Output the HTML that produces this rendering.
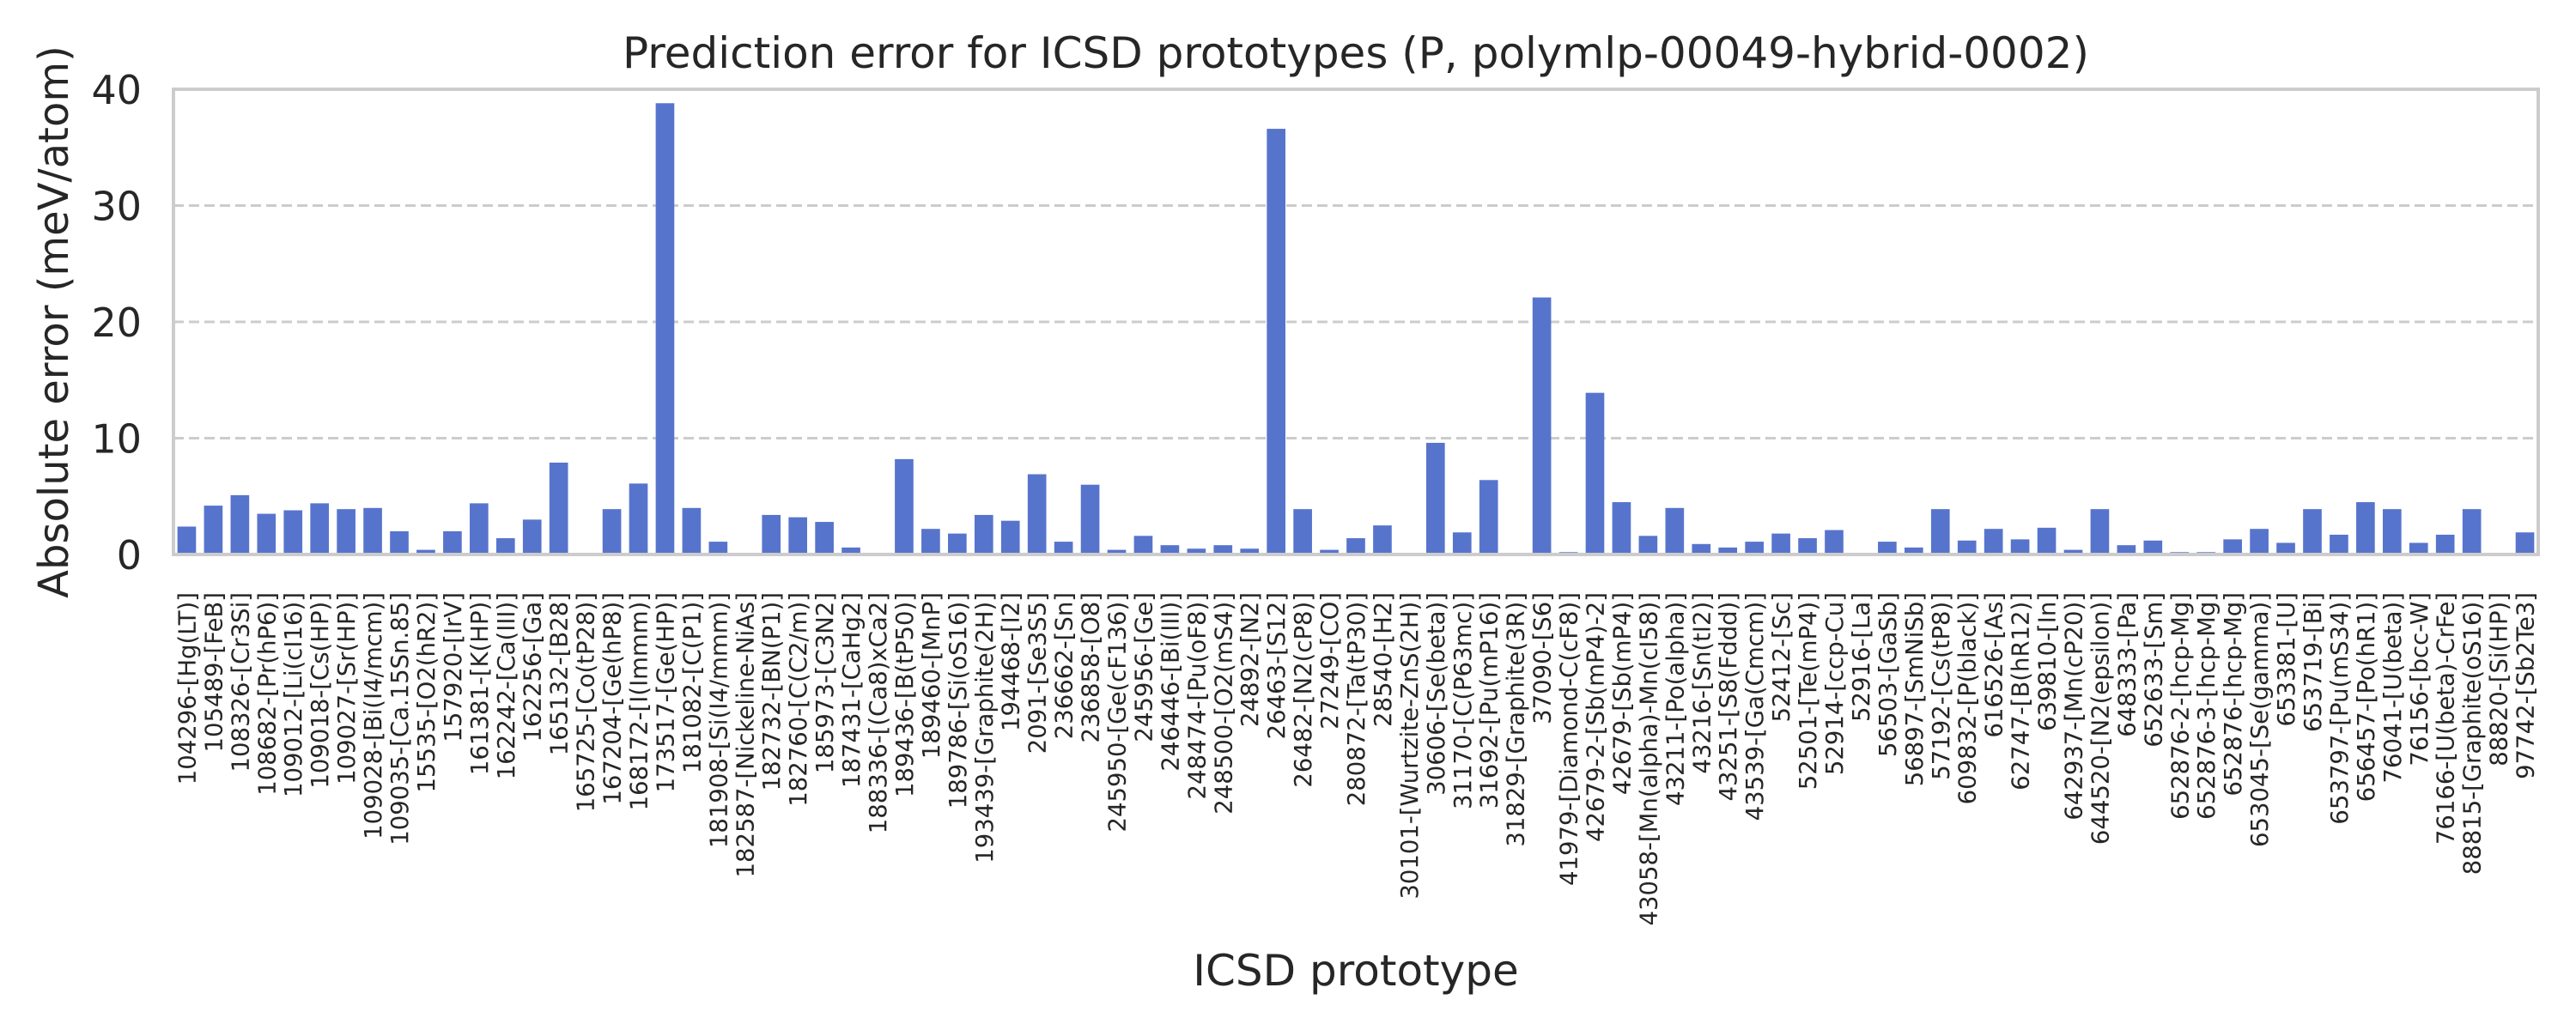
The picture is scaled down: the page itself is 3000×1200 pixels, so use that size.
<!DOCTYPE html>
<html><head><meta charset="utf-8"><style>
html,body{margin:0;padding:0;background:#fff;}
svg{display:block;font-family:"DejaVu Sans","Liberation Sans",sans-serif;}
</style></head><body>
<svg id="chart" width="3000" height="1200" viewBox="0 0 3000 1200" xmlns="http://www.w3.org/2000/svg">
<rect width="3000" height="1200" fill="#fff"/>
<text x="1579" y="79" font-size="50" fill="#262626" text-anchor="middle">Prediction error for ICSD prototypes (P, polymlp-00049-hybrid-0002)</text>
<g id="grid"></g>
<g id="bars"></g>
<rect x="202" y="104" width="2754" height="542" fill="none" stroke="#cccccc" stroke-width="4"/>
<g id="yticks"></g>
<g id="xticks"></g>
<text transform="translate(79,375) rotate(-90)" font-size="48" fill="#262626" text-anchor="middle">Absolute error (meV/atom)</text>
<text x="1579" y="1148" font-size="50" fill="#262626" text-anchor="middle">ICSD prototype</text>
</svg>
<script>
const categories = ["104296-[Hg(LT)]","105489-[FeB]","108326-[Cr3Si]","108682-[Pr(hP6)]","109012-[Li(cI16)]","109018-[Cs(HP)]","109027-[Sr(HP)]","109028-[Bi(I4/mcm)]","109035-[Ca.15Sn.85]","15535-[O2(hR2)]","157920-[IrV]","161381-[K(HP)]","162242-[Ca(III)]","162256-[Ga]","165132-[B28]","165725-[Co(tP28)]","167204-[Ge(hP8)]","168172-[I(Immm)]","173517-[Ge(HP)]","181082-[C(P1)]","181908-[Si(I4/mmm)]","182587-[Nickeline-NiAs]","182732-[BN(P1)]","182760-[C(C2/m)]","185973-[C3N2]","187431-[CaHg2]","188336-[(Ca8)xCa2]","189436-[B(tP50)]","189460-[MnP]","189786-[Si(oS16)]","193439-[Graphite(2H)]","194468-[I2]","2091-[Se3S5]","236662-[Sn]","236858-[O8]","245950-[Ge(cF136)]","245956-[Ge]","246446-[Bi(III)]","248474-[Pu(oF8)]","248500-[O2(mS4)]","24892-[N2]","26463-[S12]","26482-[N2(cP8)]","27249-[CO]","280872-[Ta(tP30)]","28540-[H2]","30101-[Wurtzite-ZnS(2H)]","30606-[Se(beta)]","31170-[C(P63mc)]","31692-[Pu(mP16)]","31829-[Graphite(3R)]","37090-[S6]","41979-[Diamond-C(cF8)]","42679-2-[Sb(mP4)-2]","42679-[Sb(mP4)]","43058-[Mn(alpha)-Mn(cI58)]","43211-[Po(alpha)]","43216-[Sn(tI2)]","43251-[S8(Fddd)]","43539-[Ga(Cmcm)]","52412-[Sc]","52501-[Te(mP4)]","52914-[ccp-Cu]","52916-[La]","56503-[GaSb]","56897-[SmNiSb]","57192-[Cs(tP8)]","609832-[P(black)]","616526-[As]","62747-[B(hR12)]","639810-[In]","642937-[Mn(cP20)]","644520-[N2(epsilon)]","648333-[Pa]","652633-[Sm]","652876-2-[hcp-Mg]","652876-3-[hcp-Mg]","652876-[hcp-Mg]","653045-[Se(gamma)]","653381-[U]","653719-[Bi]","653797-[Pu(mS34)]","656457-[Po(hR1)]","76041-[U(beta)]","76156-[bcc-W]","76166-[U(beta)-CrFe]","88815-[Graphite(oS16)]","88820-[Si(HP)]","97742-[Sb2Te3]"];
const errors = [2.4,4.2,5.1,3.5,3.8,4.4,3.9,4.0,2.0,0.4,2.0,4.4,1.4,3.0,7.9,0.05,3.9,6.1,38.8,4.0,1.1,0.05,3.4,3.2,2.8,0.6,0.05,8.2,2.2,1.8,3.4,2.9,6.9,1.1,6.0,0.4,1.6,0.8,0.5,0.8,0.5,36.6,3.9,0.4,1.4,2.5,0.05,9.6,1.9,6.4,0.05,22.1,0.2,13.9,4.5,1.6,4.0,0.9,0.6,1.1,1.8,1.4,2.1,0.05,1.1,0.6,3.9,1.2,2.2,1.3,2.3,0.4,3.9,0.8,1.2,0.2,0.2,1.3,2.2,1.0,3.9,1.7,4.5,3.9,1.0,1.7,3.9,0.05,1.9];
const yTicks = [0,10,20,30,40];
const yMin = 0, yMax = 40;

const NS = "http://www.w3.org/2000/svg";
const L = 202, R = 2956, T = 104, B = 646;
const step = (R - L) / categories.length;
function xScale(i){ return L + step * (i + 0.5); }
function yScale(v){ return B - (v - yMin) / (yMax - yMin) * (B - T); }

const grid = document.getElementById('grid');
const yt = document.getElementById('yticks');
yTicks.forEach(function(t){
  const y = yScale(t);
  if (t > yMin && t < yMax) {
    const ln = document.createElementNS(NS, 'line');
    
    
    ln.setAttribute('x1', L); ln.setAttribute('x2', R);
    ln.setAttribute('y1', y); ln.setAttribute('y2', y);
    ln.setAttribute('stroke', '#cccccc'); ln.setAttribute('stroke-width', '3');
    ln.setAttribute('stroke-dasharray', '12 6');
    grid.appendChild(ln);
  }
  const tx = document.createElementNS(NS, 'text');
  
  
  tx.setAttribute('x', 165); tx.setAttribute('y', y + 17);
  tx.setAttribute('text-anchor', 'end'); tx.setAttribute('font-size', '46');
  tx.setAttribute('fill', '#262626');
  tx.textContent = t;
  yt.appendChild(tx);
});

const bars = document.getElementById('bars');
const xt = document.getElementById('xticks');
const bw = step * 0.7;
categories.forEach(function(c, i){
  const cx = xScale(i);
  const y = yScale(errors[i]);
  const r = document.createElementNS(NS, 'rect');
  
  
  r.setAttribute('x', cx - bw / 2); r.setAttribute('width', bw);
  r.setAttribute('y', y); r.setAttribute('height', Math.max(0, B - y));
  r.setAttribute('fill', '#5774cd');
  bars.appendChild(r);
  const tx = document.createElementNS(NS, 'text');
  
  
  tx.setAttribute('transform', 'translate(' + (cx + 10) + ',690) rotate(-90)');
  tx.setAttribute('text-anchor', 'end'); tx.setAttribute('font-size', '27.5');
  tx.setAttribute('fill', '#262626');
  tx.textContent = c;
  xt.appendChild(tx);
});
</script>
</body></html>
